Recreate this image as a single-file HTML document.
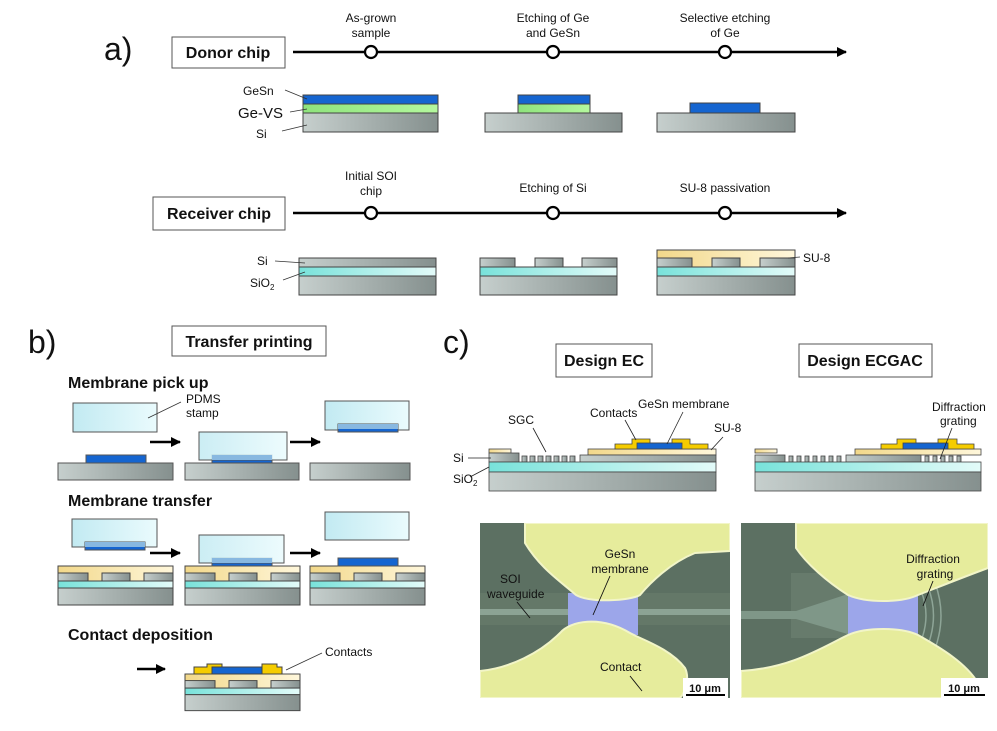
<!DOCTYPE html>
<html><head><meta charset="utf-8"><style>
html,body{margin:0;padding:0;background:#fff}
svg{display:block}
text{font-family:"Liberation Sans",Arial,sans-serif;fill:#111}
.b{font-weight:bold}
</style></head><body>
<svg width="997" height="731" viewBox="0 0 997 731" xmlns="http://www.w3.org/2000/svg">
<defs>
<linearGradient id="si" x1="0" x2="1"><stop offset="0" stop-color="#c6cfcd"/><stop offset="1" stop-color="#85908e"/></linearGradient>
<linearGradient id="ox" x1="0" x2="1"><stop offset="0" stop-color="#78e2da"/><stop offset="1" stop-color="#e3fbf9"/></linearGradient>
<linearGradient id="gv" x1="0" x2="1"><stop offset="0" stop-color="#8ee37c"/><stop offset="1" stop-color="#b4f89e"/></linearGradient>
<linearGradient id="su" x1="0" x2="1"><stop offset="0" stop-color="#f2d88a"/><stop offset="1" stop-color="#fff7db"/></linearGradient>
<linearGradient id="st" x1="0" x2="1"><stop offset="0" stop-color="#c2eaf2"/><stop offset="1" stop-color="#eafbfd"/></linearGradient>
<marker id="ar" markerWidth="10" markerHeight="10" refX="9" refY="5" orient="auto" markerUnits="userSpaceOnUse"><path d="M0,0 L10,5 L0,10z" fill="#000"/></marker>
<g id="rcv" stroke="#444" stroke-width="1">
<rect x="0" y="0" width="115" height="15" fill="url(#su)"/>
<rect x="0" y="7" width="30" height="8" fill="url(#si)"/>
<rect x="44" y="7" width="28" height="8" fill="url(#si)"/>
<rect x="86" y="7" width="29" height="8" fill="url(#si)"/>
<rect x="0" y="15" width="115" height="7" fill="url(#ox)"/>
<rect x="0" y="22" width="115" height="17" fill="url(#si)"/>
</g>
</defs>

<!-- ===== a) ===== -->
<text x="104" y="60" font-size="32">a)</text>
<rect x="172" y="37" width="113" height="31" fill="#fff" stroke="#555"/>
<text x="228" y="58" font-size="16" class="b" text-anchor="middle">Donor chip</text>
<line x1="293" y1="52" x2="846" y2="52" stroke="#000" stroke-width="2.5" marker-end="url(#ar)"/>
<g fill="#fff" stroke="#000" stroke-width="2.2">
<circle cx="371" cy="52" r="6"/><circle cx="553" cy="52" r="6"/><circle cx="725" cy="52" r="6"/></g>
<g font-size="12" text-anchor="middle">
<text x="371" y="22">As-grown</text><text x="371" y="37">sample</text>
<text x="553" y="22">Etching of Ge</text><text x="553" y="37">and GeSn</text>
<text x="725" y="22">Selective etching</text><text x="725" y="37">of Ge</text>
</g>
<g stroke="#444">
<rect x="303" y="95" width="135" height="9" fill="#1565d0"/>
<rect x="303" y="104" width="135" height="9" fill="url(#gv)"/>
<rect x="303" y="113" width="135" height="19" fill="url(#si)"/>
<rect x="518" y="95" width="72" height="9" fill="#1565d0"/>
<rect x="518" y="104" width="72" height="9" fill="url(#gv)"/>
<rect x="485" y="113" width="137" height="19" fill="url(#si)"/>
<rect x="690" y="103" width="70" height="10" fill="#1565d0"/>
<rect x="657" y="113" width="138" height="19" fill="url(#si)"/>
</g>
<text x="243" y="95" font-size="12">GeSn</text>
<text x="238" y="118" font-size="15">Ge-VS</text>
<text x="256" y="138" font-size="12">Si</text>
<g stroke="#333" stroke-width="0.8"><line x1="285" y1="90" x2="307" y2="99"/><line x1="290" y1="112" x2="307" y2="109"/><line x1="282" y1="131" x2="307" y2="125"/></g>

<rect x="153" y="197" width="132" height="33" fill="#fff" stroke="#555"/>
<text x="219" y="219" font-size="16" class="b" text-anchor="middle">Receiver chip</text>
<line x1="293" y1="213" x2="846" y2="213" stroke="#000" stroke-width="2.5" marker-end="url(#ar)"/>
<g fill="#fff" stroke="#000" stroke-width="2.2">
<circle cx="371" cy="213" r="6"/><circle cx="553" cy="213" r="6"/><circle cx="725" cy="213" r="6"/></g>
<g font-size="12" text-anchor="middle">
<text x="371" y="180">Initial SOI</text><text x="371" y="195">chip</text>
<text x="553" y="192">Etching of Si</text>
<text x="725" y="192">SU-8 passivation</text>
</g>
<g stroke="#444">
<rect x="299" y="258" width="137" height="9" fill="url(#si)"/>
<rect x="299" y="267" width="137" height="9" fill="url(#ox)"/>
<rect x="299" y="276" width="137" height="19" fill="url(#si)"/>
<rect x="480" y="258" width="35" height="9" fill="url(#si)"/>
<rect x="535" y="258" width="28" height="9" fill="url(#si)"/>
<rect x="582" y="258" width="35" height="9" fill="url(#si)"/>
<rect x="480" y="267" width="137" height="9" fill="url(#ox)"/>
<rect x="480" y="276" width="137" height="19" fill="url(#si)"/>
<rect x="657" y="250" width="138" height="17" fill="url(#su)"/>
<rect x="657" y="258" width="35" height="9" fill="url(#si)"/>
<rect x="712" y="258" width="28" height="9" fill="url(#si)"/>
<rect x="760" y="258" width="35" height="9" fill="url(#si)"/>
<rect x="657" y="267" width="138" height="9" fill="url(#ox)"/>
<rect x="657" y="276" width="138" height="19" fill="url(#si)"/>
</g>
<text x="257" y="265" font-size="12">Si</text>
<text x="250" y="287" font-size="12">SiO<tspan font-size="8" dy="3">2</tspan></text>
<text x="803" y="262" font-size="12">SU-8</text>
<g stroke="#333" stroke-width="0.8"><line x1="275" y1="261" x2="305" y2="263"/><line x1="283" y1="280" x2="305" y2="272"/><line x1="800" y1="257" x2="788" y2="258"/></g>

<!-- ===== b) ===== -->
<text x="28" y="353" font-size="32">b)</text>
<rect x="172" y="326" width="154" height="30" fill="#fff" stroke="#555"/>
<text x="249" y="347" font-size="16" class="b" text-anchor="middle">Transfer printing</text>
<text x="68" y="388" font-size="16" class="b">Membrane pick up</text>
<g stroke="#555">
<rect x="73" y="403" width="84" height="29" fill="url(#st)"/>
<rect x="86" y="455" width="60" height="8" fill="#1565d0"/>
<rect x="58" y="463" width="115" height="17" fill="url(#si)"/>
<rect x="212" y="455" width="60" height="8" fill="#1565d0"/>
<rect x="199" y="432" width="88" height="28" fill="url(#st)" fill-opacity="0.85"/>
<rect x="212" y="455" width="60" height="5" fill="#88b8e0" stroke="none"/>
<rect x="185" y="463" width="114" height="17" fill="url(#si)"/>
<rect x="325" y="401" width="84" height="29" fill="url(#st)"/>
<rect x="338" y="424" width="60" height="8" fill="#1565d0"/>
<rect x="338" y="424" width="60" height="5" fill="#88b8e0" stroke="none"/>
<rect x="310" y="463" width="100" height="17" fill="url(#si)"/>
</g>
<text x="186" y="403" font-size="12">PDMS</text><text x="186" y="417" font-size="12">stamp</text>
<line x1="148" y1="418" x2="181" y2="402" stroke="#333" stroke-width="0.8"/>
<g stroke="#000" stroke-width="2.5"><line x1="150" y1="442" x2="180" y2="442" marker-end="url(#ar)"/><line x1="290" y1="442" x2="320" y2="442" marker-end="url(#ar)"/></g>

<text x="68" y="506" font-size="16" class="b">Membrane transfer</text>
<use href="#rcv" x="58" y="566"/><use href="#rcv" x="185" y="566"/><use href="#rcv" x="310" y="566"/>
<g stroke="#555">
<rect x="72" y="519" width="85" height="28" fill="url(#st)"/>
<rect x="85" y="542" width="60" height="8" fill="#1565d0"/>
<rect x="85" y="542" width="60" height="5" fill="#88b8e0" stroke="none"/>
<rect x="212" y="558" width="60" height="8" fill="#1565d0"/>
<rect x="199" y="535" width="85" height="28" fill="url(#st)" fill-opacity="0.85"/>
<rect x="212" y="558" width="60" height="5" fill="#88b8e0" stroke="none"/>
<rect x="325" y="512" width="84" height="28" fill="url(#st)"/>
<rect x="338" y="558" width="60" height="8" fill="#1565d0"/>
</g>
<g stroke="#000" stroke-width="2.5"><line x1="150" y1="553" x2="180" y2="553" marker-end="url(#ar)"/><line x1="290" y1="553" x2="320" y2="553" marker-end="url(#ar)"/></g>

<text x="68" y="640" font-size="16" class="b">Contact deposition</text>
<g transform="translate(185,674) scale(1,0.94)"><use href="#rcv"/></g>
<path d="M194,674 V667 H207 V664 H222 V667 H262 V664 H277 V667 H282 V674 Z" fill="#f5cc00" stroke="#444"/>
<rect x="212" y="667" width="50" height="7" fill="#1565d0" stroke="#444"/>
<text x="325" y="656" font-size="12">Contacts</text>
<line x1="322" y1="653" x2="286" y2="670" stroke="#333" stroke-width="0.8"/>
<line x1="137" y1="669" x2="165" y2="669" stroke="#000" stroke-width="2.5" marker-end="url(#ar)"/>

<!-- ===== c) ===== -->
<text x="443" y="353" font-size="32">c)</text>
<rect x="556" y="344" width="96" height="33" fill="#fff" stroke="#555"/>
<text x="604" y="366" font-size="16" class="b" text-anchor="middle">Design EC</text>
<rect x="799" y="344" width="133" height="33" fill="#fff" stroke="#555"/>
<text x="865" y="366" font-size="16" class="b" text-anchor="middle">Design ECGAC</text>

<g stroke="#444" stroke-width="0.8">
<rect x="489" y="449" width="22" height="4" fill="url(#su)"/>
<rect x="588" y="449" width="128" height="6" fill="url(#su)"/>
<rect x="489" y="453" width="30" height="9" fill="url(#si)"/>
<rect x="580" y="455" width="136" height="7" fill="url(#si)"/>
<g fill="url(#si)">
<rect x="522" y="456" width="5" height="6"/><rect x="530" y="456" width="5" height="6"/><rect x="538" y="456" width="5" height="6"/><rect x="546" y="456" width="5" height="6"/><rect x="554" y="456" width="5" height="6"/><rect x="562" y="456" width="5" height="6"/><rect x="570" y="456" width="5" height="6"/></g>
<rect x="489" y="462" width="227" height="10" fill="url(#ox)"/>
<rect x="489" y="472" width="227" height="19" fill="url(#si)"/>
<path d="M615,449 V444 H632 V439 H650 V443 H672 V439 H690 V444 H708 V449 Z" fill="#f5cc00"/>
<rect x="637" y="443" width="45" height="6" fill="#1565d0"/>
</g>
<g font-size="12">
<text x="508" y="424">SGC</text><text x="590" y="417">Contacts</text><text x="638" y="408">GeSn membrane</text>
<text x="714" y="432">SU-8</text><text x="453" y="462">Si</text><text x="453" y="483">SiO<tspan font-size="8" dy="3">2</tspan></text>
</g>
<g stroke="#222" stroke-width="0.8"><line x1="533" y1="428" x2="546" y2="452"/><line x1="625" y1="420" x2="636" y2="440"/><line x1="683" y1="412" x2="667" y2="444"/><line x1="723" y1="437" x2="711" y2="450"/><line x1="468" y1="458" x2="491" y2="458"/><line x1="470" y1="477" x2="489" y2="467"/></g>

<g stroke="#444" stroke-width="0.8">
<rect x="755" y="449" width="22" height="4" fill="url(#su)"/>
<rect x="855" y="449" width="126" height="6" fill="url(#su)"/>
<rect x="755" y="455" width="30" height="7" fill="url(#si)"/>
<rect x="846" y="455" width="75" height="7" fill="url(#si)"/>
<g fill="url(#si)">
<rect x="789" y="456" width="4" height="6"/><rect x="797" y="456" width="4" height="6"/><rect x="805" y="456" width="4" height="6"/><rect x="813" y="456" width="4" height="6"/><rect x="821" y="456" width="4" height="6"/><rect x="829" y="456" width="4" height="6"/><rect x="837" y="456" width="4" height="6"/>
<rect x="925" y="456" width="4" height="6"/><rect x="933" y="456" width="4" height="6"/><rect x="941" y="456" width="4" height="6"/><rect x="949" y="456" width="4" height="6"/><rect x="957" y="456" width="4" height="6"/></g>
<rect x="755" y="462" width="226" height="10" fill="url(#ox)"/>
<rect x="755" y="472" width="226" height="19" fill="url(#si)"/>
<path d="M881,449 V444 H897 V439 H916 V443 H938 V439 H957 V444 H974 V449 Z" fill="#f5cc00"/>
<rect x="903" y="443" width="45" height="6" fill="#1565d0"/>
</g>
<text x="932" y="411" font-size="12">Diffraction</text><text x="940" y="425" font-size="12">grating</text>
<line x1="952" y1="428" x2="940" y2="459" stroke="#222" stroke-width="0.8"/>

<!-- SEM left -->
<svg x="480" y="523" width="250" height="175" viewBox="0 0 250 175">
<rect width="250" height="175" fill="#5c7062"/>
<rect y="70" width="250" height="32" fill="#647868"/>
<rect y="86" width="250" height="6" fill="#8ca394"/>
<rect x="88" y="70" width="70" height="42" fill="#9ca6ea"/>
<path d="M45,0 H250 V28 L215,30 C190,40 170,60 160,72 C150,78 110,80 96,72 C80,58 60,45 45,20 Z" fill="#e6ec9c" stroke="#f2f5c8" stroke-width="2"/>
<path d="M0,175 V148 C30,145 60,130 80,110 C90,98 120,92 150,110 C160,116 190,125 205,145 C210,155 205,170 200,175 Z" fill="#e6ec9c" stroke="#f2f5c8" stroke-width="2"/>
<text x="140" y="35" font-size="12" text-anchor="middle">GeSn</text><text x="140" y="50" font-size="12" text-anchor="middle">membrane</text>
<text x="20" y="60" font-size="12">SOI</text><text x="7" y="75" font-size="12">waveguide</text>
<text x="120" y="148" font-size="12">Contact</text>
<g stroke="#111" stroke-width="0.9"><line x1="130" y1="53" x2="113" y2="92"/><line x1="37" y1="79" x2="50" y2="95"/><line x1="150" y1="153" x2="162" y2="168"/></g>
<rect x="203" y="155" width="45" height="20" fill="#fff"/>
<text x="225" y="169" font-size="11" class="b" text-anchor="middle">10 μm</text>
<line x1="206" y1="172" x2="245" y2="172" stroke="#000" stroke-width="2"/>
</svg>
<!-- SEM right -->
<svg x="741" y="523" width="247" height="175" viewBox="0 0 247 175">
<rect width="247" height="175" fill="#5c7062"/>
<path d="M50,50 H110 L110,115 L50,115 Z" fill="#677b6c"/>
<path d="M0,88 H55 L110,70 V112 L55,96 H0 Z" fill="#7f9788"/>
<rect x="107" y="70" width="70" height="42" fill="#9ca6ea"/>
<g fill="none" stroke="#8ea597" stroke-width="1.5"><path d="M180,68 Q190,92 180,118"/><path d="M187,64 Q198,92 187,122"/><path d="M194,60 Q206,92 194,126"/></g>
<path d="M55,0 H247 V45 C220,55 195,65 177,72 C160,80 125,80 107,72 C85,58 65,40 55,25 Z" fill="#e6ec9c" stroke="#f2f5c8" stroke-width="2"/>
<path d="M0,175 V148 C50,145 80,125 107,112 C125,104 160,104 177,112 C200,125 225,140 237,160 V175 Z" fill="#e6ec9c" stroke="#f2f5c8" stroke-width="2"/>
<text x="192" y="40" font-size="12" text-anchor="middle">Diffraction</text><text x="194" y="55" font-size="12" text-anchor="middle">grating</text>
<line x1="192" y1="58" x2="182" y2="83" stroke="#111" stroke-width="0.9"/>
<rect x="200" y="155" width="47" height="20" fill="#fff"/>
<text x="223" y="169" font-size="11" class="b" text-anchor="middle">10 μm</text>
<line x1="203" y1="172" x2="244" y2="172" stroke="#000" stroke-width="2"/>
</svg>
</svg>
</body></html>
